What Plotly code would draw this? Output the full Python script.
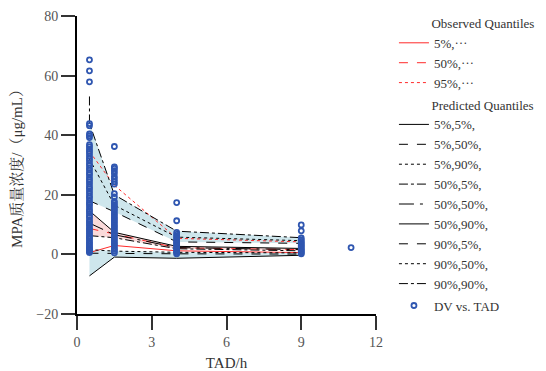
import plotly.graph_objects as go

# ---- data ----
bin_x = [0.5, 1.5, 4, 9]

obs_q05 = [0.6, 3.0, 1.2, 0.6]
obs_q50 = [8.7, 6.8, 2.2, 1.6]
obs_q95 = [34.5, 23.2, 5.4, 4.2]

pred_05_05 = [-7.2, -0.9, -1.3, -0.3]
pred_05_50 = [0.4, 0.4, 0.2, 0.1]
pred_05_90 = [1.6, 1.1, 0.7, 0.5]
pred_50_05 = [6.3, 5.6, 1.9, 1.2]
pred_50_50 = [10.5, 6.6, 2.3, 1.6]
pred_50_90 = [14.6, 7.4, 2.7, 2.0]
pred_90_05 = [18.0, 14.3, 4.2, 3.7]
pred_90_50 = [32.0, 16.5, 5.8, 4.6]
pred_90_90 = [44.0, 20.0, 7.8, 5.6]
pred_90_90_top = 53.0

dv_x05 = [0.6, 1.0, 1.4, 1.9, 2.3, 2.8, 3.4, 3.9, 4.5, 5.2, 5.7, 6.3, 7.0, 7.6, 8.3, 8.8, 9.6,
          10.2, 10.9, 11.5, 12.4, 13.0, 13.8, 14.5, 15.1, 16.0, 16.8, 17.3, 18.1, 19.0, 19.6,
          20.5, 21.3, 22.1, 22.7, 23.6, 24.4, 25.1, 25.9, 26.8, 27.4, 28.3, 29.0, 29.9, 30.6,
          31.5, 32.2, 33.0, 33.9, 34.6, 35.3, 36.1, 36.8, 39.2, 39.8, 40.4, 43.2, 43.9,
          57.9, 61.6, 65.3]
dv_x15 = [0.5, 1.1, 1.7, 2.2, 2.9, 3.5, 4.1, 4.8, 5.4, 6.1, 6.7, 7.3, 8.0, 8.6, 9.3, 9.9,
          10.6, 11.2, 11.9, 12.5, 13.2, 13.8, 14.6, 15.2, 15.9, 16.5, 17.2, 17.8, 19.3, 20.4,
          23.6, 24.4, 25.3, 26.1, 27.2, 28.1, 28.9, 29.4, 36.2]
dv_x4 = [0.2, 0.6, 1.0, 1.4, 1.9, 2.3, 2.8, 3.2, 3.7, 4.1, 4.6, 5.0, 5.6, 6.1, 6.7, 7.4,
         11.3, 17.4]
dv_x9 = [0.2, 0.5, 0.9, 1.3, 1.7, 2.1, 2.6, 3.0, 3.5, 3.9, 4.4, 4.9, 5.5, 7.9, 9.9]
dv_x11 = [2.3]

tad_ticks = [0, 3, 6, 9, 12]
conc_ticks = [-20, 0, 20, 40, 60, 80]

# ---- styling ----
FONT = "Liberation Serif, Noto Serif CJK SC, Noto Sans CJK SC, serif"
BLUE_FILL = "rgba(190,222,229,0.75)"
PINK_FILL = "rgba(248,205,205,0.75)"
RED = "#ff2a2a"

fig = go.Figure()


def band(lo, hi, color):
    xs = bin_x + bin_x[::-1]
    ys = lo + hi[::-1]
    fig.add_trace(go.Scatter(x=xs, y=ys, fill="toself", fillcolor=color,
                             line=dict(width=0), mode="lines", hoverinfo="skip",
                             showlegend=False))


band(pred_05_05, pred_05_90, BLUE_FILL)
band(pred_50_05, pred_50_90, PINK_FILL)
band(pred_90_05, pred_90_90, BLUE_FILL)

INDENT = "&nbsp;" * 10

# observed quantiles
obs_series = [("5%,⋯", obs_q05, "solid"), ("50%,⋯", obs_q50, "dash"), ("95%,⋯", obs_q95, "dot")]
for i, (name, ys, dash) in enumerate(obs_series):
    fig.add_trace(go.Scatter(
        x=bin_x, y=ys, mode="lines", name=name,
        line=dict(color=RED, width=1, dash=dash),
        legendgroup="obs", legendgrouptitle_text=(INDENT + "Observed Quantiles") if i == 0 else None,
        legendrank=100 + i))

pred_series = [
    ("5%,5%,", pred_05_05, "solid"),
    ("5%,50%,", pred_05_50, "dash"),
    ("5%,90%,", pred_05_90, "dot"),
    ("50%,5%,", pred_50_05, "dashdot"),
    ("50%,50%,", pred_50_50, "longdashdot"),
    ("50%,90%,", pred_50_90, "solid"),
    ("90%,5%,", pred_90_05, "dash"),
    ("90%,50%,", pred_90_50, "dot"),
    ("90%,90%,", pred_90_90, "dashdot"),
]
for i, (name, ys, dash) in enumerate(pred_series):
    xs = list(bin_x)
    yv = list(ys)
    if name == "90%,90%,":
        xs = [bin_x[0]] + xs
        yv = [pred_90_90_top] + yv
    fig.add_trace(go.Scatter(
        x=xs, y=yv, mode="lines", name=name,
        line=dict(color="black", width=1, dash=dash),
        legendgroup="pred", legendgrouptitle_text=(INDENT + "Predicted Quantiles") if i == 0 else None,
        legendrank=200 + i))

dv_x = ([0.5] * len(dv_x05) + [1.5] * len(dv_x15) + [4] * len(dv_x4)
        + [9] * len(dv_x9) + [11] * len(dv_x11))
dv_y = dv_x05 + dv_x15 + dv_x4 + dv_x9 + dv_x11
fig.add_trace(go.Scatter(
    x=dv_x, y=dv_y, mode="markers", name="DV vs. TAD",
    marker=dict(symbol="circle-open", size=5, color="#2f56b0", line=dict(width=1.8)),
    legendgroup="dv", legendrank=300))

fig.update_layout(
    width=538, height=363,
    margin=dict(l=69, r=170, t=8, b=57, autoexpand=False),
    paper_bgcolor="white", plot_bgcolor="white",
    font=dict(family=FONT, size=13, color="#333333"),
    legend=dict(x=1.06, y=1.027, xanchor="left", yanchor="top",
                font=dict(family=FONT, size=13, color="#333333"),
                grouptitlefont=dict(family=FONT, size=13, color="#333333"),
                tracegroupgap=2, bgcolor="rgba(0,0,0,0)", itemwidth=30,
                maxheight=363),
)
fig.update_xaxes(
    range=[0, 12], tickvals=tad_ticks, showgrid=False, zeroline=False,
    showline=True, linecolor="black", linewidth=2,
    ticks="outside", ticklen=14, tickwidth=1.5, tickcolor="#333",
    tickfont=dict(family=FONT, size=14, color="#555555"),
    title=dict(text="TAD/h", font=dict(family=FONT, size=15, color="#333333"), standoff=15),
)
fig.update_yaxes(
    range=[-20, 80], tickvals=conc_ticks, showgrid=False, zeroline=False,
    showline=True, linecolor="black", linewidth=2,
    ticks="outside", ticklen=14, tickwidth=1.5, tickcolor="#333",
    tickfont=dict(family=FONT, size=14, color="#555555"),
    title=dict(text="MPA质量浓度/（μg/mL）", font=dict(family=FONT, size=15, color="#333333"), standoff=24),
)

fig.write_html("out.html")
